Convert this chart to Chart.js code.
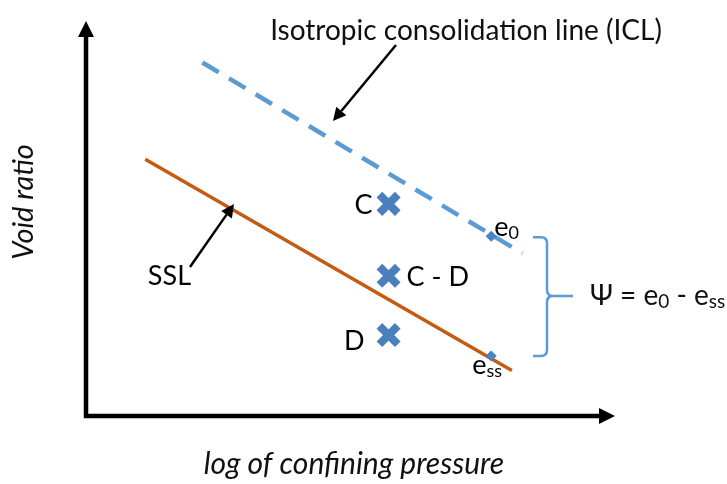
<!DOCTYPE html>
<html>
<head>
<meta charset="utf-8">
<title>Void ratio vs log of confining pressure</title>
<script src="https://cdn.jsdelivr.net/npm/chart.js@4.4.1/dist/chart.umd.min.js"></script>
<style>
  html, body { margin: 0; padding: 0; background: #fff; }
  #wrap { width: 727px; height: 484px; position: relative; }
</style>
</head>
<body>
<div id="wrap"><canvas id="stateChart"></canvas></div>
<script>
// x = log of confining pressure (0..10), y = void ratio (0..1)
const iclLogP = [2.2, 8.25];
const iclVoid = [0.895, 0.412];

const sslLogP = [1.12, 8.05];
const sslVoid = [0.65, 0.115];

const stateNames = ['C', 'C - D', 'D'];
const stateLogP = [5.72, 5.72, 5.72];
const stateVoid = [0.537, 0.355, 0.205];

const refNames = ['e0', 'ess'];
const refLogP = [7.66, 7.66];
const refVoid = [0.455, 0.152];

const FONT = 'Lato, "Open Sans", sans-serif';
const BLUE = '#5b9bd5';
const ORANGE = '#c55a11';
const MARK = '#4a7fbd';

function pts(xs, ys) {
  return xs.map((x, i) => ({ x: x, y: ys[i] }));
}

// draws text with subscript parts at odd indexes, e.g. ['e', '0']
function subText(ctx, parts, x, y, size) {
  const subSize = Math.round(size * 0.68);
  let cx = x;
  parts.forEach((p, i) => {
    const sub = i % 2 === 1;
    ctx.font = (sub ? subSize : size) + 'px ' + FONT;
    ctx.fillText(p, cx, sub ? y + size * 0.22 : y);
    cx += ctx.measureText(p).width;
  });
}

function pointer(ctx, x1, y1, x2, y2) {
  const a = Math.atan2(y2 - y1, x2 - x1);
  const head = 13, half = 6.5;
  const bx = x2 - head * Math.cos(a), by = y2 - head * Math.sin(a);
  ctx.beginPath();
  ctx.moveTo(x1, y1);
  ctx.lineTo(bx, by);
  ctx.lineWidth = 2.5;
  ctx.strokeStyle = '#000';
  ctx.stroke();
  ctx.beginPath();
  ctx.moveTo(x2, y2);
  ctx.lineTo(bx + half * Math.sin(a), by - half * Math.cos(a));
  ctx.lineTo(bx - half * Math.sin(a), by + half * Math.cos(a));
  ctx.closePath();
  ctx.fillStyle = '#000';
  ctx.fill();
}

const diagram = {
  id: 'diagram',
  beforeDatasetsDraw(chart) {
    const ctx = chart.ctx;
    const a = chart.chartArea;
    ctx.save();
    ctx.strokeStyle = '#000';
    ctx.fillStyle = '#000';
    ctx.lineWidth = 4.5;
    ctx.beginPath();
    ctx.moveTo(a.left, a.top + 14);
    ctx.lineTo(a.left, a.bottom);
    ctx.lineTo(a.right - 14, a.bottom);
    ctx.stroke();
    // arrow heads
    ctx.beginPath();
    ctx.moveTo(a.left, a.top);
    ctx.lineTo(a.left - 8, a.top + 16);
    ctx.lineTo(a.left + 8, a.top + 16);
    ctx.closePath();
    ctx.fill();
    ctx.beginPath();
    ctx.moveTo(a.right, a.bottom);
    ctx.lineTo(a.right - 16, a.bottom - 8);
    ctx.lineTo(a.right - 16, a.bottom + 8);
    ctx.closePath();
    ctx.fill();
    ctx.restore();
  },
  afterDatasetsDraw(chart) {
    const ctx = chart.ctx;
    const xs = chart.scales.x, ys = chart.scales.y;
    const a = chart.chartArea;
    ctx.save();
    ctx.fillStyle = '#111';
    ctx.textBaseline = 'middle';

    // axis titles
    ctx.font = 'italic 30px ' + FONT;
    ctx.textAlign = 'center';
    ctx.fillText('log of confining pressure', 354, a.bottom + 48);
    ctx.font = 'italic 29px ' + FONT;
    ctx.save();
    ctx.translate(24, 202);
    ctx.rotate(-Math.PI / 2);
    ctx.fillText('Void ratio', 0, 0);
    ctx.restore();

    // line names and pointers
    ctx.font = '28px ' + FONT;
    ctx.textAlign = 'center';
    ctx.fillText('Isotropic consolidation line (ICL)', 466, 31);
    pointer(ctx, 396, 45, 333, 121);

    ctx.font = '27px ' + FONT;
    ctx.textAlign = 'right';
    ctx.fillText('SSL', 191, 276);
    pointer(ctx, 190, 267, 234, 204);

    // state point labels
    const sx = xs.getPixelForValue(stateLogP[0]);
    ctx.textAlign = 'right';
    ctx.fillText(stateNames[0], sx - 16, ys.getPixelForValue(stateVoid[0]) + 1);
    ctx.textAlign = 'left';
    ctx.fillText(stateNames[1], sx + 18, ys.getPixelForValue(stateVoid[1]) + 2);
    ctx.textAlign = 'right';
    ctx.fillText(stateNames[2], sx - 24, ys.getPixelForValue(stateVoid[2]) + 6);

    // e0 / ess labels
    ctx.textAlign = 'left';
    const rx = xs.getPixelForValue(refLogP[0]);
    const e0y = ys.getPixelForValue(refVoid[0]);
    const essy = ys.getPixelForValue(refVoid[1]);
    subText(ctx, ['e', '0'], rx + 3, e0y - 9, 27);
    subText(ctx, ['e', 'ss'], rx - 19, essy + 9, 27);

    // brace spanning e0 .. ess
    const bl = 533, bx = 547, tip = 573;
    const mid = (e0y + essy) / 2;
    ctx.strokeStyle = BLUE;
    ctx.lineWidth = 2.5;
    ctx.beginPath();
    ctx.moveTo(bl, e0y + 1);
    ctx.lineTo(bx - 6, e0y + 1);
    ctx.quadraticCurveTo(bx, e0y + 1, bx, e0y + 7);
    ctx.lineTo(bx, mid - 6);
    ctx.quadraticCurveTo(bx, mid, bx + 6, mid);
    ctx.lineTo(tip, mid);
    ctx.moveTo(bx + 6, mid);
    ctx.quadraticCurveTo(bx, mid, bx, mid + 6);
    ctx.lineTo(bx, essy - 6);
    ctx.quadraticCurveTo(bx, essy, bx - 6, essy);
    ctx.lineTo(bl, essy);
    ctx.stroke();

    ctx.fillStyle = '#111';
    subText(ctx, ['\u03A8 = e', '0', ' - e', 'ss'], 590, mid, 28);
    ctx.restore();
  }
};

new Chart(document.getElementById('stateChart'), {
  type: 'scatter',
  data: {
    datasets: [
      {
        label: 'ICL',
        type: 'line',
        data: pts(iclLogP, iclVoid),
        borderColor: BLUE,
        borderWidth: 4.5,
        borderDash: [19, 12],
        pointRadius: 0,
        fill: false,
        order: 3
      },
      {
        label: 'SSL',
        type: 'line',
        data: pts(sslLogP, sslVoid),
        borderColor: ORANGE,
        borderWidth: 3.5,
        pointRadius: 0,
        fill: false,
        order: 2
      },
      {
        label: 'States',
        data: pts(stateLogP, stateVoid),
        pointStyle: 'crossRot',
        pointRadius: 13,
        borderColor: MARK,
        borderWidth: 8,
        backgroundColor: MARK,
        order: 1
      },
      {
        label: 'Reference void ratios',
        data: pts(refLogP, refVoid),
        pointStyle: 'rectRot',
        pointRadius: 5,
        borderWidth: 1,
        borderColor: '#3f7fc0',
        backgroundColor: '#4a86c5',
        order: 0
      }
    ]
  },
  options: {
    responsive: true,
    maintainAspectRatio: false,
    animation: false,
    layout: { padding: { left: 86, right: 112, top: 10, bottom: 68 } },
    plugins: {
      legend: { display: false },
      tooltip: { enabled: false }
    },
    scales: {
      x: { type: 'linear', min: 0, max: 10, display: false },
      y: { type: 'linear', min: 0, max: 1, display: false }
    }
  },
  plugins: [diagram]
});
</script>
</body>
</html>
